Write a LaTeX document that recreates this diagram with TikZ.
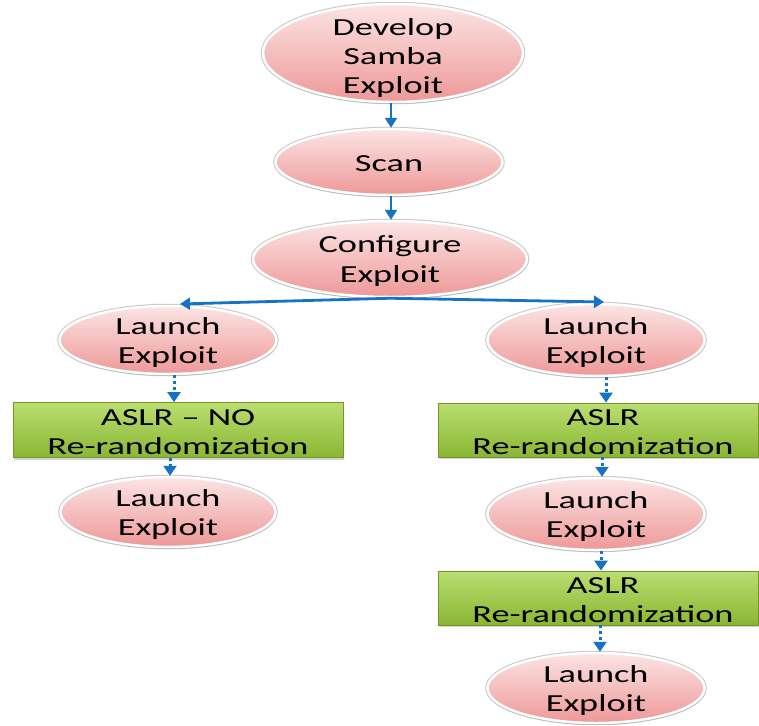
\documentclass[tikz,border=0pt]{standalone}
\usepackage{fontspec}
\setmainfont{Carlito}[FakeStretch=1.48]
\usetikzlibrary{shapes.geometric,shadows,arrows.meta,calc}
\definecolor{arrblue}{RGB}{22,114,196}
\definecolor{pinktop}{RGB}{252,228,228}
\definecolor{pinkbot}{RGB}{238,152,152}
\definecolor{greentop}{RGB}{186,222,112}
\definecolor{greenbot}{RGB}{138,182,52}
\definecolor{greenline}{RGB}{118,150,40}
\tikzset{
  oval/.style={ellipse, draw=white, line width=2.5pt, top color=pinktop, bottom color=pinkbot,
    inner sep=0pt, preaction={draw=black!22, line width=4.5pt},
    drop shadow={opacity=0.25, shadow xshift=0.5pt, shadow yshift=-2pt}},
  gbox/.style={rectangle, draw=greenline, line width=0.8pt, top color=greentop, bottom color=greenbot,
    inner sep=0pt, drop shadow={opacity=0.35, shadow xshift=1pt, shadow yshift=-2pt}},
  txt/.style={align=center, inner sep=0pt, font=\fontsize{24.5pt}{29pt}\selectfont, text=black},
  solidarrow/.style={draw=arrblue, line width=2.8pt, -{Triangle[length=10pt,width=12pt]}},
  dotarrow/.style={draw=arrblue, line width=3pt, dash pattern=on 3pt off 3pt, -{Triangle[length=10pt,width=13pt]}},
}
\begin{document}
\begin{tikzpicture}[x=1pt,y=-1pt]
\useasboundingbox (0,0) rectangle (759,725);
% shapes
\node[oval, minimum width=260pt, minimum height=98pt] (dev) at (393,53) {};
\node[oval, minimum width=227pt, minimum height=66pt] (scan) at (389,162) {};
\node[oval, minimum width=274pt, minimum height=76pt] (cfg) at (390,259) {};
\node[oval, minimum width=217pt, minimum height=68pt] (l1) at (168,340) {};
\node[gbox, minimum width=330pt, minimum height=55pt] (l2) at (178,430) {};
\node[oval, minimum width=215pt, minimum height=70pt] (l3) at (168,512) {};
\node[oval, minimum width=217pt, minimum height=72pt] (r1) at (596,340) {};
\node[gbox, minimum width=320pt, minimum height=54pt] (r2) at (598,430) {};
\node[oval, minimum width=217pt, minimum height=72pt] (r3) at (596,514) {};
\node[gbox, minimum width=320pt, minimum height=54pt] (r4) at (598,598) {};
\node[oval, minimum width=217pt, minimum height=70pt] (r5) at (596,688) {};
% texts
\node[txt] (devt) at (393,58) {Develop\\Samba\\Exploit};
\node[txt] (scant) at (389,164) {Scan};
\node[txt] (cfgt) at (390,261) {Configure\\Exploit};
\node[txt] (l1t) at (168,342) {Launch\\Exploit};
\node[txt] (l2t) at (178,432) {ASLR -- NO\\Re-randomization};
\node[txt] (l3t) at (168,514) {Launch\\Exploit};
\node[txt] (r1t) at (596,342) {Launch\\Exploit};
\node[txt] (r2t) at (603,432) {ASLR\\Re-randomization};
\node[txt] (r3t) at (596,516) {Launch\\Exploit};
\node[txt] (r4t) at (603,600) {ASLR\\Re-randomization};
\node[txt] (r5t) at (596,690) {Launch\\Exploit};
% connectors
\draw[solidarrow] (dev.south -| 391,0) -- (scan.north -| 391,0);
\draw[solidarrow] (scan.south -| 391,0) -- (cfg.north -| 391,0);
\coordinate (lt) at (180,304);
\coordinate (rt) at (604,302);
\draw[solidarrow] (cfg.south) -- (lt);
\draw[solidarrow] (cfg.south) -- (rt);
\draw[dotarrow] (l1.south -| 174,0) -- (l2.north -| 174,0);
\draw[dotarrow] (l2.south -| 170,0) -- (l3.north -| 170,0);
\draw[dotarrow] (r1.south -| 606,0) -- (r2.north -| 606,0);
\draw[dotarrow] (r2.south -| 602,0) -- (r3.north -| 602,0);
\draw[dotarrow] (r3.south -| 601,0) -- (r4.north -| 601,0);
\draw[dotarrow] (r4.south -| 600,0) -- (r5.north -| 600,0);
\end{tikzpicture}
\end{document}
